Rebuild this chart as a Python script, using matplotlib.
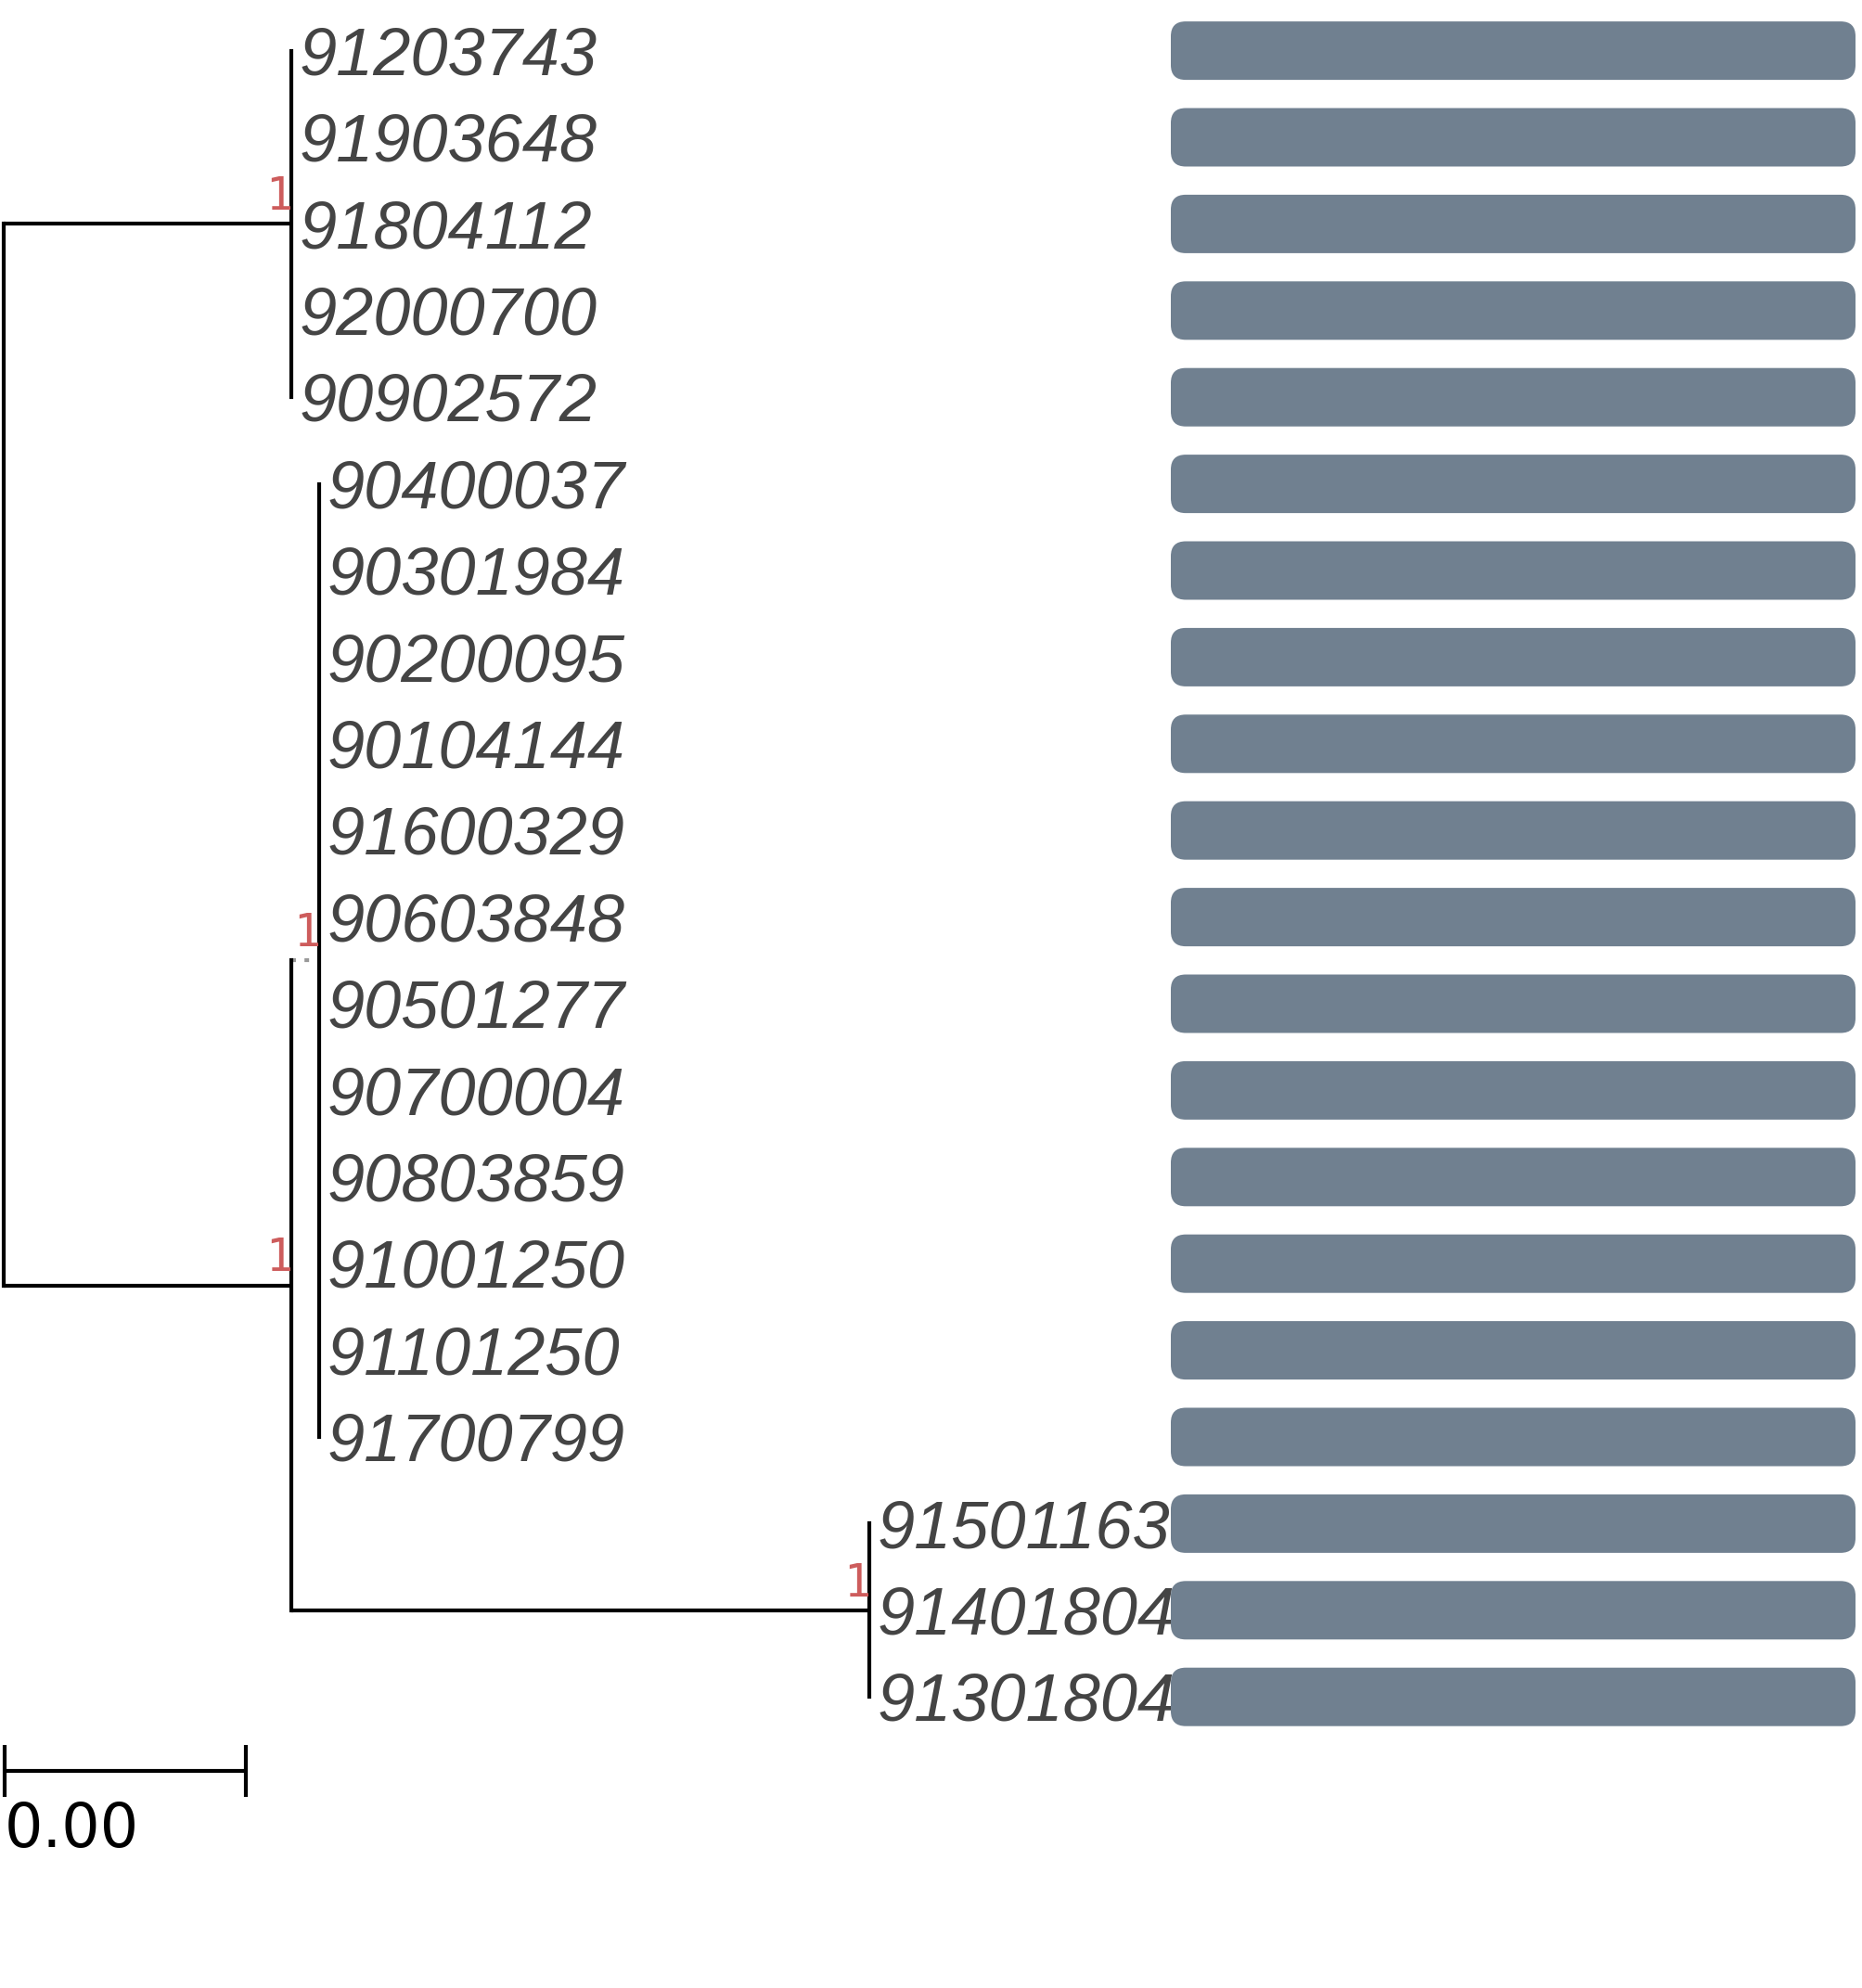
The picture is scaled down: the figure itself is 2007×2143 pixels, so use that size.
import matplotlib
matplotlib.use("Agg")
import matplotlib.pyplot as plt
import matplotlib.transforms as mtransforms
from matplotlib.patches import FancyBboxPatch

# tree data
tip_labels = ["91203743", "91903648", "91804112", "92000700", "90902572",
              "90400037", "90301984", "90200095", "90104144", "91600329",
              "90603848", "90501277", "90700004", "90803859", "91001250",
              "91101250", "91700799",
              "91501163", "91401804", "91301804"]
tip_parent = ["A", "A", "A", "A", "A",
              "C", "C", "C", "C", "C", "C", "C", "C", "C", "C", "C", "C",
              "D", "D", "D"]
tip_branch = [0.0, 0.0, 0.0, 0.0, 0.0,
              0.0, 0.0, 0.0, 0.0, 0.0, 0.0, 0.0, 0.0, 0.0, 0.0, 0.0, 0.0,
              0.0, 0.0, 0.0]

node_names = ["root", "A", "B", "C", "D"]
node_parent = [None, "root", "root", "B", "B"]
node_branch = [0.0, 0.00477, 0.00477, 0.00046, 0.00958]
node_support = ["", "1", "1", "1", "1"]

bar_values = [1, 1, 1, 1, 1, 1, 1, 1, 1, 1, 1, 1, 1, 1, 1, 1, 1, 1, 1, 1]

scale_width = 0.004
scale_label = "0.00"

# layout
W, H = 2007, 2143
px_per_unit = 260 / scale_width
row_px = 93.4
row0_px = 54.6

fig = plt.figure(figsize=(W / 100, H / 100), dpi=100)
ax = fig.add_axes([0, 0, 1, 1])
ax.set_xlim(-4 / px_per_unit, (W - 4) / px_per_unit)
ylim = (1 + (H - row0_px) / row_px, 1 - row0_px / row_px)
ax.set_ylim(*ylim)
ax.axis("off")

# positions
node_x = {}
for name, par, bl in zip(node_names, node_parent, node_branch):
    node_x[name] = (node_x[par] if par else 0.0) + bl
tip_x = [node_x[p] + b for p, b in zip(tip_parent, tip_branch)]
tip_y = list(range(1, len(tip_labels) + 1))

children = {n: [] for n in node_names}
for i, p in enumerate(tip_parent):
    children[p].append(("tip", i))
for n, p in zip(node_names, node_parent):
    if p:
        children[p].append(("node", n))

node_y = {}
def get_y(n):
    if n in node_y:
        return node_y[n]
    ys = [tip_y[c] if k == "tip" else get_y(c) for k, c in children[n]]
    node_y[n] = sum(ys) / len(ys)
    return node_y[n]
for n in node_names:
    get_y(n)

lw = 3.0
# horizontal branches
for n, p in zip(node_names, node_parent):
    if p is None:
        continue
    if n == "C":
        ax.plot([node_x[p], node_x[n]], [node_y[n], node_y[n]], color="#999999",
                lw=lw, ls=(0, (1.2, 2.2)), solid_capstyle="butt")
    else:
        ax.plot([node_x[p], node_x[n]], [node_y[n], node_y[n]], color="black",
                lw=lw, solid_capstyle="butt")
# vertical connectors
for n in node_names:
    ys = [tip_y[c] if k == "tip" else node_y[c] for k, c in children[n]]
    ax.plot([node_x[n], node_x[n]], [min(ys), max(ys)], color="black", lw=lw,
            solid_capstyle="projecting")

# tip labels
lab_fs = 52
lab_tr = mtransforms.offset_copy(ax.transData, fig=fig, x=6, y=-0.355 * lab_fs,
                                 units="points")
for x, y, t in zip(tip_x, tip_y, tip_labels):
    ax.text(x, y, t, transform=lab_tr, ha="left", va="baseline",
            fontsize=lab_fs, style="italic", color="#444444",
            family=["Liberation Sans", "DejaVu Sans"])

# support values
sup_tr = mtransforms.offset_copy(ax.transData, fig=fig, x=1, y=11, units="points")
for n, s in zip(node_names, node_support):
    if s:
        ax.text(node_x[n], node_y[n], s, transform=sup_tr, ha="right",
                va="baseline", fontsize=35, color="#CD5C5C",
                family=["DejaVu Sans Mono", "DejaVu Sans"])

# scale bar
sb_y = 1 + (1909 - row0_px) / row_px
tick_h = 28 / row_px
sb_x0 = 1 / px_per_unit
ax.plot([sb_x0, sb_x0 + scale_width], [sb_y, sb_y], color="black", lw=lw,
        solid_capstyle="butt")
for xx in (sb_x0, sb_x0 + scale_width):
    ax.plot([xx, xx], [sb_y - tick_h, sb_y + tick_h], color="black", lw=lw,
            solid_capstyle="butt")
ax.text(sb_x0, 1 + (1973 - row0_px) / row_px, scale_label, ha="left",
        va="center", fontsize=47, color="black", family="DejaVu Sans")

# bar panel
bx0, bx1 = 1262, 2000
ax2 = fig.add_axes([bx0 / W, 0, (bx1 - bx0) / W, 1])
ax2.set_xlim(0, 1)
ax2.set_ylim(*ylim)
ax2.axis("off")
bar_h = 63 / row_px
r = 16 / (bx1 - bx0)
aspect = (bx1 - bx0) / row_px
for y, v in zip(tip_y, bar_values):
    ax2.add_patch(FancyBboxPatch((0, y - bar_h / 2), v, bar_h,
                                 boxstyle=f"round,pad=0,rounding_size={r}",
                                 mutation_aspect=aspect, fc="#708090",
                                 ec="none"))

fig.savefig("out.png", dpi=100)
